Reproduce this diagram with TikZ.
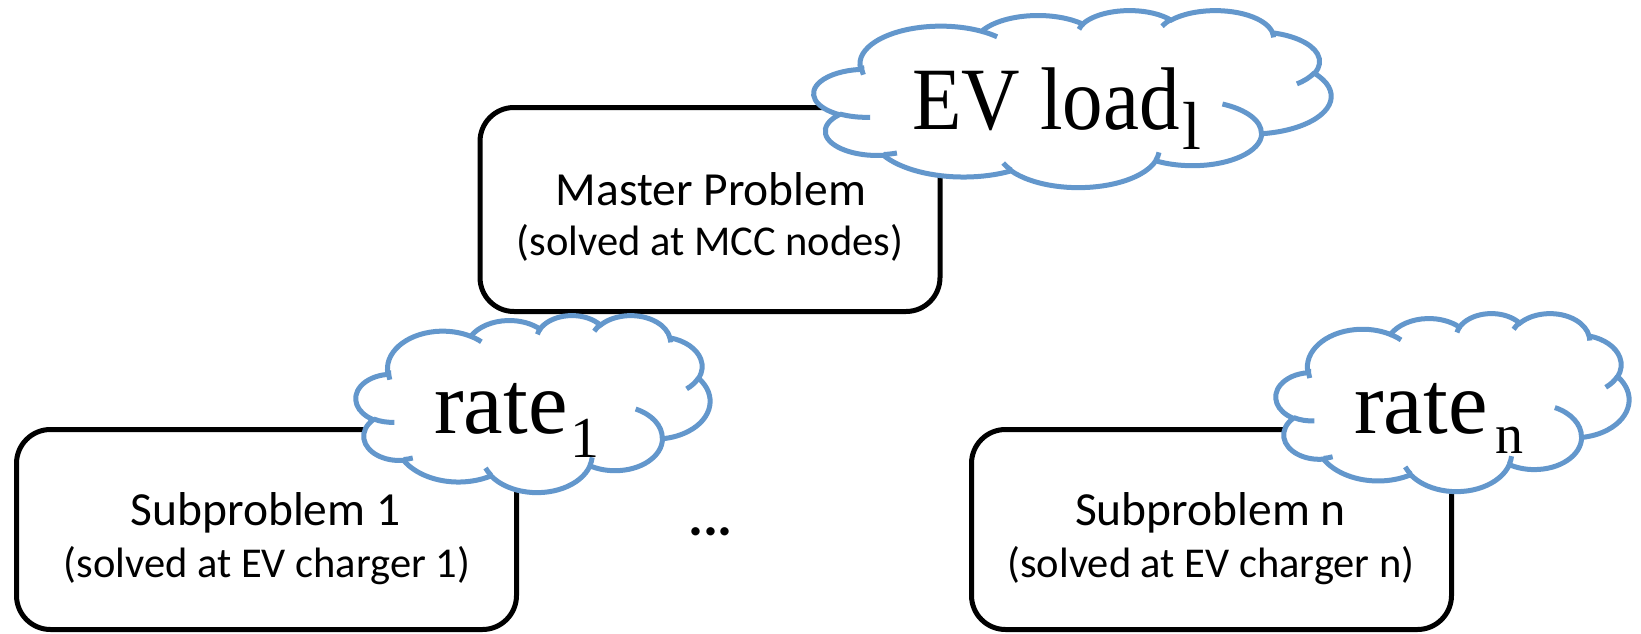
\documentclass[tikz,border=0pt]{standalone}
\usepackage{graphicx}
\usepackage{fontspec}
\setmainfont{Liberation Serif}
\newfontfamily\boxfont{Carlito}
\definecolor{cloudblue}{RGB}{99,151,204}

% Cloud outline built from elliptical lobes in a 43.2 x 43.2 frame.
% Angles are given as visual directions and turned into ellipse parameters.
\def\cloudoutline{}
\def\cloudhooks{}
\newcommand\ooangles[4]{%
  \pgfmathsetmacro\ooS{atan2((#1)*sin(#3),(#2)*cos(#3))}%
  \pgfmathsetmacro\ooE{atan2((#1)*sin((#3)+(#4)),(#2)*cos((#3)+(#4)))}%
  \pgfmathsetmacro\ooD{mod(\ooE-\ooS+720,360)}%
}
\newcommand\olarc[4]{\ooangles{#1}{#2}{#3}{#4}%
  \xdef\cloudoutline{\cloudoutline arc[start angle=\ooS,delta angle=\ooD,x radius=#1,y radius=#2]}}
\newcommand\hkarc[6]{\ooangles{#3}{#4}{#5}{#6}%
  \xdef\cloudhooks{\cloudhooks (#1,#2) arc[start angle=\ooS,delta angle=\ooD,x radius=#3,y radius=#4]}}

\olarc{6.753}{9.190}{-190.4875}{123.7805}
\olarc{5.333}{7.267}{-144.1024}{89.9452}
\olarc{4.365}{5.945}{-145.8079}{99.7230}
\olarc{4.857}{6.595}{-130.9861}{117.2417}
\olarc{5.333}{7.273}{-78.7089}{109.0269}
\olarc{6.775}{9.220}{-46.2673}{130.2690}
\olarc{5.785}{7.867}{0.6250}{114.0333}
\olarc{6.752}{9.215}{22.4516}{115.1726}
\olarc{7.720}{10.543}{66.2426}{75.7110}
\olarc{4.360}{5.918}{-274.9421}{146.7356}
\olarc{4.345}{5.945}{-246.8285}{152.5189}

\hkarc{4.693}{26.177}{4.345}{5.945}{86.7420}{26.4295}
\hkarc{6.928}{34.899}{4.360}{5.918}{73.6105}{11.4475}
\hkarc{16.478}{39.090}{6.752}{9.215}{137.6242}{14.0811}
\hkarc{28.827}{34.751}{6.752}{9.215}{6.4533}{15.9984}
\hkarc{34.129}{22.954}{5.785}{7.867}{-70.2924}{70.9174}
\hkarc{41.798}{15.354}{5.333}{7.273}{30.3180}{27.7515}
\hkarc{38.324}{5.426}{4.857}{6.595}{-13.7443}{14.8589}
\hkarc{29.078}{3.952}{4.857}{6.595}{-149.1815}{18.1954}
\hkarc{22.141}{4.720}{4.365}{5.945}{-163.4943}{17.6864}
\hkarc{14.000}{5.192}{6.753}{9.190}{-66.7070}{12.3194}
\hkarc{4.127}{15.789}{6.753}{9.190}{163.7416}{18.8421}

% #1,#2: top-left corner; #3,#4: horizontal and vertical unit (pt per frame unit)
\newcommand\drawcloud[4]{%
  \begin{scope}[shift={(#1,#2)}, x=#3pt, y=-#4pt]
    \draw[cloudline, fill=white] (3.9,14.37) \cloudoutline -- cycle;
    \draw[cloudline] \cloudhooks;
  \end{scope}}

\tikzset{
  cloudline/.style={draw=cloudblue, line width=5pt},
  taskbox/.style={draw=black, line width=5pt, rounded corners=34pt, fill=white, inner sep=0pt},
  titletxt/.style={font=\boxfont\fontsize{47.5}{47.5}\selectfont, anchor=base, inner sep=0pt},
  wheretxt/.style={font=\boxfont\fontsize{42.5}{42.5}\selectfont, anchor=base, inner sep=0pt},
  cloudtxt/.style={font=\fontsize{89}{89}\selectfont, anchor=base west, inner sep=0pt},
}

\begin{document}
\begin{tikzpicture}[x=1pt, y=-1pt]
\useasboundingbox (0,0) rectangle (1641,634);

% problem boxes
\node[taskbox, minimum width=460pt, minimum height=204pt] (master) at (710,209.5) {};
\node[taskbox, minimum width=500pt, minimum height=200pt] (subone) at (266.5,529.5) {};
\node[taskbox, minimum width=480pt, minimum height=200pt] (subn) at (1211.5,529.5) {};

\node[titletxt] (mastera) at (711,205) {Master Problem};
\node[wheretxt] (masterb) at (710,255) {(solved at MCC nodes)};
\node[titletxt] (subonea) at (265.5,525) {Subproblem 1};
\node[wheretxt] (suboneb) at (267,577) {(solved at EV charger 1)};
\node[titletxt] (subna) at (1210.5,525) {Subproblem n};
\node[wheretxt] (subnb) at (1211,577) {(solved at EV charger n)};

\node[font=\boxfont\bfseries\fontsize{56}{56}\selectfont, anchor=base, inner sep=0pt] (dots) at (710.5,535) {...};

% message clouds
\drawcloud{814}{10}{11.968}{4.097}
\drawcloud{356}{315}{8.194}{4.097}
\drawcloud{1276}{313}{8.171}{4.120}

\node[cloudtxt] (evload) at (912,129)
  {\scalebox{0.91}[1]{EV load}\kern3pt\raisebox{-20pt}{\fontsize{68}{68}\selectfont l}};
\node[cloudtxt] (rateone) at (434,433)
  {rate\kern3pt\raisebox{-24pt}{\fontsize{58}{58}\selectfont 1}};
\node[cloudtxt] (raten) at (1354,433)
  {rate\kern8pt\raisebox{-20pt}{\fontsize{56}{56}\selectfont n}};
\end{tikzpicture}
\end{document}
